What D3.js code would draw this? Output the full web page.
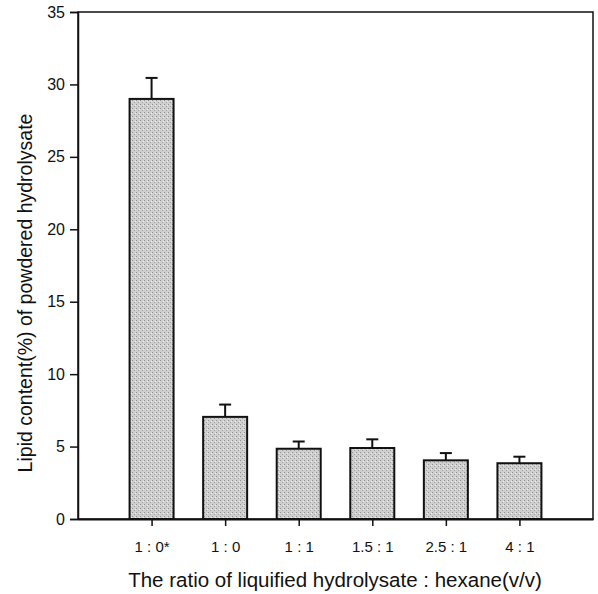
<!DOCTYPE html>
<html>
<head>
<meta charset="utf-8">
<script src="https://cdn.jsdelivr.net/npm/d3@7"></script>
<style>
  body { margin: 0; background: #fff; }
  text { font-family: "Liberation Sans", Arial, sans-serif; fill: #111; }
</style>
</head>
<body>
<div class="chart"></div>
<script>
// data
const ratios = ["1 : 0*", "1 : 0", "1 : 1", "1.5 : 1", "2.5 : 1", "4 : 1"];
const lipid = [29.0, 7.05, 4.85, 4.9, 4.05, 3.85];
const errUp = [1.45, 0.85, 0.5, 0.6, 0.5, 0.45];
const yTicks = [0, 5, 10, 15, 20, 25, 30, 35];

const W = 598, H = 594;
const mLeft = 78, mRight = 593, mTop = 12, mBottom = 519;

const svg = d3.select(".chart").append("svg")
    .attr("width", W)
    .attr("height", H);

// stipple pattern for the bars
const defs = svg.append("defs");
const pat = defs.append("pattern")
    .attr("id", "stip")
    .attr("width", 4).attr("height", 4)
    .attr("patternUnits", "userSpaceOnUse");
pat.append("rect").attr("width", 4).attr("height", 4).attr("fill", "#cfcfcf");
pat.append("rect").attr("x", 0).attr("y", 0).attr("width", 1).attr("height", 1).attr("fill", "#929292");
pat.append("rect").attr("x", 2).attr("y", 2).attr("width", 1).attr("height", 1).attr("fill", "#a2a2a2");
pat.append("rect").attr("x", 3).attr("y", 1).attr("width", 1).attr("height", 1).attr("fill", "#eeeeee");

const x = d3.scalePoint()
    .domain(ratios)
    .range([mLeft, mRight])
    .padding(1);

const y = d3.scaleLinear()
    .domain([0, 35])
    .range([mBottom, mTop]);

const barW = 44;
const rows = ratios.map((r, i) => ({ r, v: lipid[i], e: errUp[i] }));

// error bars (upper only)
svg.append("g").selectAll("g")
    .data(rows)
    .join("g")
    .each(function (d) {
        const g = d3.select(this);
        const cx = x(d.r);
        g.append("line")
            .attr("x1", cx).attr("x2", cx)
            .attr("y1", y(d.v)).attr("y2", y(d.v + d.e))
            .attr("stroke", "#111").attr("stroke-width", 2);
        g.append("line")
            .attr("x1", cx - 6).attr("x2", cx + 6)
            .attr("y1", y(d.v + d.e)).attr("y2", y(d.v + d.e))
            .attr("stroke", "#111").attr("stroke-width", 2);
    });

// bars
svg.append("g").selectAll("rect")
    .data(rows)
    .join("rect")
    .attr("x", d => x(d.r) - barW / 2)
    .attr("y", d => y(d.v))
    .attr("width", barW)
    .attr("height", d => y(0) - y(d.v))
    .attr("fill", "url(#stip)")
    .attr("stroke", "#111")
    .attr("stroke-width", 2);

// frame
svg.append("rect")
    .attr("x", mLeft).attr("y", mTop)
    .attr("width", mRight - mLeft).attr("height", mBottom - mTop)
    .attr("fill", "none")
    .attr("stroke", "#111")
    .attr("stroke-width", 1.5);

// y axis
const yAxis = svg.append("g")
    .attr("transform", `translate(${mLeft},0)`)
    .call(d3.axisLeft(y).tickValues(yTicks).tickSize(8).tickPadding(5));
yAxis.select(".domain").attr("stroke", "#111").attr("stroke-width", 1.5);
yAxis.selectAll(".tick line").attr("stroke", "#111").attr("stroke-width", 1.5);
yAxis.selectAll(".tick text").style("font-size", "16px").attr("fill", "#111");

// x axis
const xAxis = svg.append("g")
    .attr("transform", `translate(0,${mBottom})`)
    .call(d3.axisBottom(x).tickSize(7).tickPadding(15).tickSizeOuter(0));
xAxis.select(".domain").attr("stroke", "#111").attr("stroke-width", 2);
xAxis.selectAll(".tick line").attr("stroke", "#111").attr("stroke-width", 1.5);
xAxis.selectAll(".tick text").style("font-size", "15px").attr("fill", "#111");

// axis titles
svg.append("text")
    .attr("transform", `translate(32,293) rotate(-90)`)
    .attr("text-anchor", "middle")
    .style("font-size", "19.5px")
    .text("Lipid content(%) of powdered hydrolysate");

svg.append("text")
    .attr("x", 335).attr("y", 587)
    .attr("text-anchor", "middle")
    .style("font-size", "20.5px")
    .text("The ratio of liquified hydrolysate : hexane(v/v)");
</script>
</body>
</html>
